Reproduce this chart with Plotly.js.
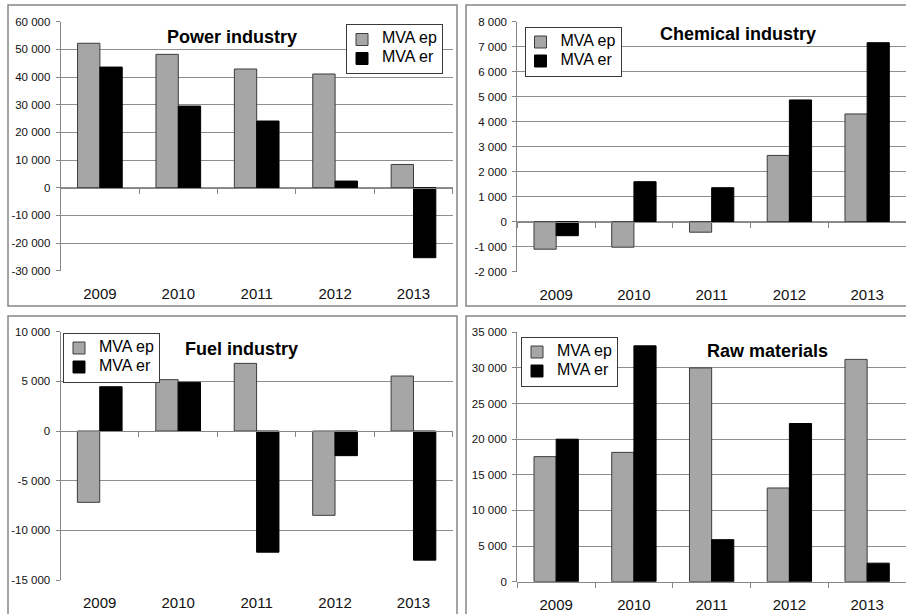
<!DOCTYPE html>
<html>
<head>
<meta charset="utf-8">
<script src="https://cdn.plot.ly/plotly-3.0.1.min.js"></script>
<style>html,body{margin:0;padding:0;background:#fff;overflow:hidden}</style>
</head>
<body>
<div id="chart" style="width:906px;height:614px"></div>
<script>
// ---- data ----
const years = ['2009', '2010', '2011', '2012', '2013'];
const seriesNames = ['MVA ep', 'MVA er'];
const panelTitles = ['Power industry', 'Chemical industry', 'Fuel industry', 'Raw materials'];

const powerEp = [52200, 48200, 42900, 41100, 8400];
const powerEr = [43600, 29500, 24100, 2400, -25300];
const chemEp = [-1100, -1020, -420, 2650, 4310];
const chemEr = [-560, 1600, 1360, 4870, 7160];
const fuelEp = [-7180, 5170, 6810, -8490, 5540];
const fuelEr = [4460, 4900, -12200, -2480, -13000];
const rawEp = [17550, 18150, 30000, 13150, 31200];
const rawEr = [20000, 33100, 5900, 22200, 2600];

const yRanges = [[-30000, 60000], [-2000, 8000], [-15000, 10000], [0, 35000]];
const yDticks = [10000, 1000, 5000, 5000];

// ---- layout geometry ----
const W = 906, H = 614;
const px = v => v / W, py = v => 1 - v / H;
const panels = [
  {ep: powerEp, er: powerEr, xd: [px(60.7), px(452.7)], yd: [py(270.7), py(21.7)],
   legend: [px(346), py(24)], title: [px(231.7), py(37.3)]},
  {ep: chemEp, er: chemEr, xd: [px(517.3), 1], yd: [py(271.7), py(21.7)],
   legend: [px(524.5), py(26.5)], title: [px(737.7), py(34.3)]},
  {ep: fuelEp, er: fuelEr, xd: [px(60.5), px(452.7)], yd: [py(580), py(331.7)],
   legend: [px(63), py(332.5)], title: [px(241.7), py(349)]},
  {ep: rawEp, er: rawEr, xd: [px(517.3), 1], yd: [py(581.7), py(332.3)],
   legend: [px(521), py(336.5)], title: [px(767.3), py(351)]}
];

const FONT = 'Liberation Sans, Arial, sans-serif';
const GRID = '#8e8e8e';
const AXIS = '#868686';
const EP_COLOR = '#a6a6a6';
const ER_COLOR = '#000000';

function fmt(n) {
  const s = String(Math.abs(n)).replace(/\B(?=(\d{3})+(?!\d))/g, ' ');
  return (n < 0 ? '-' : '') + s;
}
const legendName = s => '<span style="font-size:16px">' + s + '</span>';

const traces = [];
const layout = {
  width: W, height: H,
  margin: {l: 0, r: 0, t: 0, b: 0},
  paper_bgcolor: '#fff', plot_bgcolor: '#fff',
  barmode: 'group', bargap: 0.43, bargroupgap: 0,
  showlegend: true,
  font: {family: FONT, color: '#000'},
  annotations: [], shapes: []
};

panels.forEach((p, i) => {
  const k = i + 1;
  const xa = k === 1 ? 'x' : 'x' + k;
  const ya = k === 1 ? 'y' : 'y' + k;
  const lg = k === 1 ? 'legend' : 'legend' + k;
  const [ymin, ymax] = yRanges[i];

  traces.push({
    type: 'bar', x: years, y: p.ep, name: legendName(seriesNames[0]), xaxis: xa, yaxis: ya, legend: lg,
    marker: {color: EP_COLOR, line: {color: '#3c3c3c', width: 1}}, hoverinfo: 'x+y'
  });
  traces.push({
    type: 'bar', x: years, y: p.er, name: legendName(seriesNames[1]), xaxis: xa, yaxis: ya, legend: lg,
    marker: {color: ER_COLOR, line: {color: '#000', width: 1}}, hoverinfo: 'x+y'
  });

  const tickvals = [];
  for (let v = ymin; v <= ymax + 1e-9; v += yDticks[i]) tickvals.push(v);

  layout['xaxis' + (k === 1 ? '' : k)] = {
    domain: p.xd, anchor: ya, type: 'category', range: [-0.5, years.length - 0.5],
    showgrid: false, zeroline: false, showline: false,
    ticks: 'outside', ticklen: 9, tickcolor: 'rgba(0,0,0,0)',
    tickfont: {family: FONT, size: 15, color: '#111'}, fixedrange: true
  };
  layout['yaxis' + (k === 1 ? '' : k)] = {
    domain: p.yd, anchor: xa, range: [ymin, ymax],
    tickmode: 'array', tickvals: tickvals, ticktext: tickvals.map(fmt),
    showgrid: true, gridcolor: GRID, gridwidth: 1,
    zeroline: false, showline: true, linecolor: AXIS, linewidth: 1,
    ticks: 'outside', ticklen: 4, tickcolor: AXIS,
    tickfont: {family: FONT, size: 11.5, color: '#111'}, ticklabelstandoff: 3,
    fixedrange: true
  };
  // category axis drawn at the zero level (with boundary tick marks)
  const zeroPos = p.yd[0] + (0 - ymin) / (ymax - ymin) * (p.yd[1] - p.yd[0]);
  layout['xaxis' + (k + 4)] = {
    domain: p.xd, overlaying: xa, anchor: 'free', position: zeroPos,
    type: 'linear', range: [-0.5, years.length - 0.5], tick0: 0.5, dtick: 1,
    showgrid: false, zeroline: false, showline: true, linecolor: AXIS, linewidth: 1,
    ticks: 'outside', ticklen: 5, tickcolor: AXIS, showticklabels: false, fixedrange: true
  };
  traces.push({type: 'scatter', x: [], y: [], xaxis: 'x' + (k + 4), yaxis: ya,
               showlegend: false, hoverinfo: 'skip'});

  layout[lg] = {
    x: p.legend[0], y: p.legend[1], xanchor: 'left', yanchor: 'top',
    xref: 'paper', yref: 'paper',
    bgcolor: '#fff', bordercolor: '#3a3a3a', borderwidth: 1,
    font: {family: FONT, size: 10, color: '#000'},
    tracegroupgap: 0, itemwidth: 30, traceorder: 'normal', indentation: -5
  };

  layout.annotations.push({
    xref: 'paper', yref: 'paper', x: p.title[0], y: p.title[1],
    xanchor: 'center', yanchor: 'middle', showarrow: false,
    text: '<b>' + panelTitles[i] + '</b>',
    font: {family: FONT, size: 18, color: '#000'}
  });
});

// panel frames
const frames = [
  [px(8), py(306), px(457), py(5)],
  [px(466), py(306), 1.02, py(5)],
  [px(8), -0.02, px(457), py(316)],
  [px(466), -0.02, 1.02, py(316)]
];
frames.forEach(f => layout.shapes.push({
  type: 'rect', xref: 'paper', yref: 'paper', x0: f[0], y0: f[1], x1: f[2], y1: f[3],
  line: {color: AXIS, width: 1.5}, fillcolor: 'rgba(0,0,0,0)', layer: 'below'
}));

Plotly.newPlot('chart', traces, layout, {displayModeBar: false, staticPlot: true});
</script>
</body>
</html>
